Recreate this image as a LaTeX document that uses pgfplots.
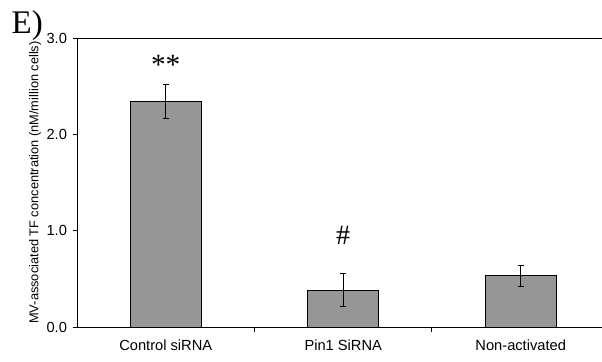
\documentclass[border=0pt]{standalone}
\usepackage{fontspec}
\setmainfont{Liberation Serif}
\newfontfamily\arial{Liberation Sans}
\usepackage{pgfplots}
\pgfplotsset{compat=1.18}
\definecolor{bargray}{RGB}{150,150,150}
\begin{document}
\begin{tikzpicture}
\useasboundingbox (0pt,0pt) rectangle (451.5pt,270.75pt);
\node[anchor=north west,inner sep=0pt,font=\fontsize{24.75}{26}\selectfont] at (8.5pt,263pt) {E)};
\begin{axis}[
  at={(57.75pt,25.5pt)}, anchor=south west,
  scale only axis, width=393.75pt, height=216.75pt,
  xmin=-0.5, xmax=2.458, ymin=0, ymax=3,
  axis lines*=left,
  axis line style={black, line width=0.75pt},
  ytick={0,1,2,3},
  yticklabels={0.0,1.0,2.0,3.0},
  yticklabel style={font=\arial\fontsize{11}{13}\selectfont, xshift=-1pt},
  ytick style={black, line width=0.75pt},
  tick align=outside,
  major tick length=3pt,
  xtick={0,1,2},
  xticklabels={Control siRNA, Pin1 SiRNA, Non-activated},
  xticklabel style={font=\arial\fontsize{11}{13}\selectfont, yshift=-3pt},
  xtick style={draw=none},
  extra x ticks={0.5,1.5},
  extra x tick labels={},
  extra x tick style={xtick style={draw=black, line width=0.75pt}, major tick length=4pt},
  extra y ticks={3},
  extra y tick labels={},
  extra y tick style={grid=major, major grid style={black, line width=0.75pt}},
  ylabel={MV-associated TF concentration (nM/million cells)},
  ylabel style={font=\arial\fontsize{9.6}{11}\selectfont, at={(axis description cs:-0.08,0.5)}, anchor=center},
  /pgf/number format/assume math mode=true,
  clip=false,
]
\addplot[ybar, bar width=53.25pt, fill=bargray, draw=black, line width=0.75pt,
  error bars/.cd, y dir=both, y explicit,
  error bar style={black, line width=0.75pt},
  error mark options={black, line width=0.75pt, mark size=2.25pt, rotate=90}]
  coordinates {
    (0,2.34) +- (0,0.18)
    (1,0.384) +- (0,0.173)
    (2,0.53) +- (0,0.105)
  };
\node[font=\fontsize{22}{24}\selectfont] at (axis cs:0,2.72) {**};
\node[font=\fontsize{21}{23}\selectfont] at (axis cs:1,0.95) {\#};
\end{axis}
\end{tikzpicture}
\end{document}
